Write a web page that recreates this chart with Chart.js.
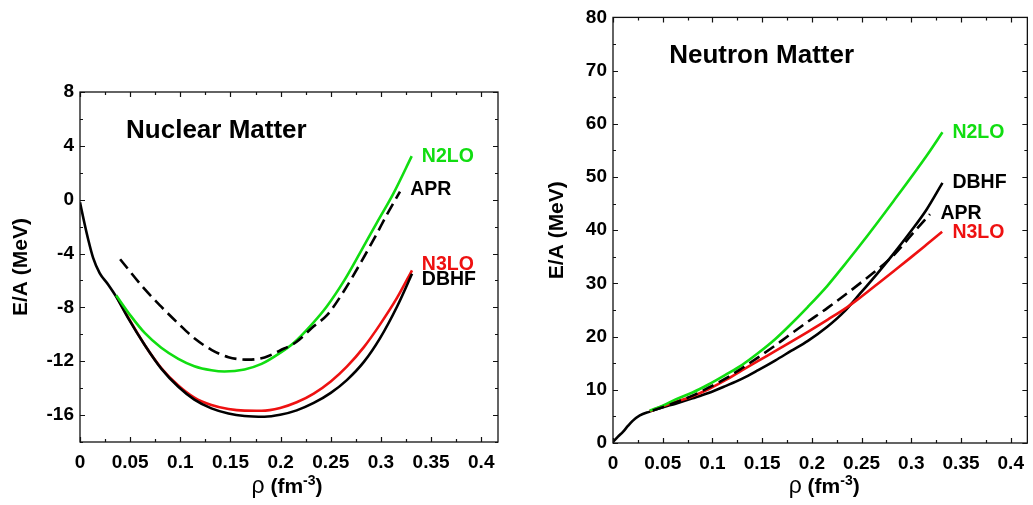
<!DOCTYPE html>
<html>
<head>
<meta charset="utf-8">
<script src="https://cdn.jsdelivr.net/npm/chart.js@4.4.1/dist/chart.umd.min.js"></script>
<style>
  html,body{margin:0;padding:0;background:#fff;}
  #wrap{position:relative;width:1033px;height:505px;overflow:hidden;}
  #nuc{position:absolute;left:0;top:0;}
  #neu{position:absolute;left:520px;top:0;}
</style>
</head>
<body>
<div id="wrap">
  <canvas id="nuc" width="520" height="505"></canvas>
  <canvas id="neu" width="513" height="505"></canvas>
</div>
<script>
/* ── Data: nuclear matter (E/A in MeV vs rho in fm^-3) ── */
const nucDbhfRho=[0,0.004,0.008,0.013,0.0196,0.028,0.036,0.048,0.065,0.081,0.098,0.114,0.131,0.148,0.164,0.184,0.1995,0.216,0.233,0.25,0.266,0.283,0.299,0.316,0.331];
const nucDbhfE=[-0.2,-1.6,-2.9,-4.3,-5.45,-6.3,-7.2,-8.8,-10.85,-12.55,-13.9,-14.85,-15.5,-15.88,-16.07,-16.12,-15.98,-15.65,-15.1,-14.35,-13.4,-12.05,-10.3,-7.95,-5.5];
const nucN3loRho=[0.036,0.048,0.065,0.081,0.098,0.114,0.131,0.148,0.164,0.181,0.1995,0.216,0.233,0.25,0.266,0.283,0.299,0.316,0.331];
const nucN3loE=[-7.15,-8.75,-10.85,-12.5,-13.8,-14.7,-15.25,-15.55,-15.67,-15.68,-15.47,-15.05,-14.4,-13.5,-12.4,-10.95,-9.28,-7.3,-5.25];
const nucN2loRho=[0.036,0.051,0.0645,0.081,0.098,0.114,0.131,0.144,0.164,0.181,0.1995,0.213,0.23,0.246,0.263,0.279,0.296,0.3125,0.3307];
const nucN2loE=[-7.1,-8.67,-9.9,-11.0,-11.82,-12.37,-12.67,-12.76,-12.61,-12.2,-11.38,-10.64,-9.35,-7.93,-6.05,-3.97,-1.7,0.47,3.24];
const nucAprRho=[0.040,0.0645,0.081,0.098,0.114,0.131,0.148,0.1675,0.184,0.1995,0.216,0.233,0.246,0.263,0.2793,0.295,0.306,0.319];
const nucAprE=[-4.42,-6.65,-7.95,-9.2,-10.3,-11.15,-11.7,-11.88,-11.72,-11.2,-10.55,-9.4,-8.6,-6.8,-4.75,-2.65,-1.1,0.6];

/* ── Data: neutron matter ── */
const neuDbhfRho=[0,0.005,0.01,0.015,0.02,0.027,0.037,0.05,0.063,0.08,0.096,0.113,0.13,0.146,0.163,0.179,0.196,0.2158,0.232,0.249,0.266,0.2822,0.2988,0.3154,0.3313];
const neuDbhfE=[0.2,1.2,2.1,3.2,4.2,5.2,5.9,6.7,7.4,8.4,9.4,10.7,12.1,13.7,15.5,17.3,19.2,21.9,24.6,28.2,31.9,35.6,39.6,43.9,48.9];
const neuN3loRho=[0.037,0.05,0.063,0.08,0.096,0.113,0.13,0.146,0.163,0.179,0.196,0.216,0.236,0.249,0.266,0.2822,0.299,0.3154,0.331];
const neuN3loE=[6.0,6.9,7.7,8.8,10.1,11.8,13.7,15.45,17.25,19.0,20.9,23.2,25.6,27.4,29.9,32.3,34.8,37.3,39.7];
const neuN2loRho=[0.037,0.05,0.063,0.08,0.096,0.113,0.13,0.146,0.163,0.176,0.196,0.2158,0.232,0.249,0.2822,0.3154,0.3313];
const neuN2loE=[6.1,7.0,8.2,9.5,11.0,12.8,14.7,16.9,19.5,21.8,25.6,29.6,33.3,37.3,45.5,54.0,58.4];
const neuAprRho=[0.04,0.063,0.08,0.096,0.113,0.13,0.146,0.163,0.176,0.196,0.2158,0.249,0.2822,0.302,0.3187];
const neuAprE=[6.1,7.6,8.9,10.4,12.1,14.1,16.1,18.3,20.1,22.8,25.4,30.1,35.3,39.5,43.0];

/* ── Tick labels ── */
const xTicks=[0,0.05,0.1,0.15,0.2,0.25,0.3,0.35,0.4];
const xTickLabels=['0','0.05','0.1','0.15','0.2','0.25','0.3','0.35','0.4'];
const nucYTicks=[-16,-12,-8,-4,0,4,8];
const neuYTicks=[0,10,20,30,40,50,60,70,80];

/* ── Styling ── */
const GREEN='#11dd11', RED='#ee1111', BLACK='#000';
const FONT='"Liberation Sans", Arial, Helvetica, sans-serif';

const pts=(r,e)=>r.map((v,i)=>({x:v,y:e[i]}));
function line(label,r,e,color,dash){
  return {label,data:pts(r,e),borderColor:color,borderWidth:2.6,borderDash:dash||[],
    pointRadius:0,showLine:true,fill:false,cubicInterpolationMode:'monotone'};
}

/* frame, inward ticks, curve labels and x title */
const framePlugin={
  id:'frame',
  afterDraw(chart,args,o){
    const {ctx,chartArea:a,scales:{x,y}}=chart;
    ctx.save();
    ctx.strokeStyle='#111';ctx.lineWidth=1.3;
    ctx.strokeRect(a.left,a.top,a.right-a.left,a.bottom-a.top);
    ctx.lineWidth=1.2;
    ctx.beginPath();
    for(let i=0;i<=16;i++){
      const px=Math.round(x.getPixelForValue(i*0.025))+0.5,len=i%2?3:5;
      ctx.moveTo(px,a.bottom);ctx.lineTo(px,a.bottom-len);
      ctx.moveTo(px,a.top);ctx.lineTo(px,a.top+len);
    }
    for(let v=o.yMin;v<=o.yMax+1e-9;v+=o.yMinor){
      const py=Math.round(y.getPixelForValue(v))+0.5,len=((v-o.yMajor0)%o.yMajor===0)?5:3;
      ctx.moveTo(a.left,py);ctx.lineTo(a.left+len,py);
      ctx.moveTo(a.right,py);ctx.lineTo(a.right-len,py);
    }
    ctx.stroke();

    ctx.textBaseline='alphabetic';ctx.textAlign='left';
    o.labels.forEach(l=>{
      ctx.fillStyle=l.color;
      ctx.font='bold '+l.size+'px '+FONT;
      ctx.fillText(l.text,x.getPixelForValue(l.x),y.getPixelForValue(l.y));
    });

    // x axis title: rho (fm^-3)
    const parts=[
      {t:'\u03c1',f:'23px '+FONT,dy:0},
      {t:' (fm',f:'bold 21px '+FONT,dy:0},
      {t:'-3',f:'bold 14px '+FONT,dy:-8},
      {t:')',f:'bold 21px '+FONT,dy:0}
    ];
    let w=0;parts.forEach(p=>{ctx.font=p.f;p.w=ctx.measureText(p.t).width;w+=p.w;});
    let cx=(a.left+a.right)/2-w/2+o.titleDx;
    ctx.fillStyle=BLACK;
    parts.forEach(p=>{ctx.font=p.f;ctx.fillText(p.t,cx,o.titleBase+p.dy);cx+=p.w;});
    ctx.restore();
  }
};

function axes(yTicks,yMin,yMax,yWidth,xHeight,yTitlePad){
  return {
    x:{type:'linear',min:0,max:0.4167,
      afterBuildTicks:s=>{s.ticks=xTicks.map(v=>({value:v}));},
      afterFit:s=>{s.height=xHeight;},
      grid:{display:false,drawTicks:false},border:{display:false},
      ticks:{autoSkip:false,maxRotation:0,padding:9,color:BLACK,
        font:{family:FONT,size:19,weight:'bold'},
        callback:(v,i)=>xTickLabels[i]}},
    y:{type:'linear',min:yMin,max:yMax,
      afterBuildTicks:s=>{s.ticks=yTicks.map(v=>({value:v}));},
      afterFit:s=>{s.width=yWidth;},
      grid:{display:false,drawTicks:false},border:{display:false},
      ticks:{padding:6,color:BLACK,font:{family:FONT,size:19,weight:'bold'}},
      title:{display:true,text:'E/A (MeV)',color:BLACK,padding:{top:yTitlePad,bottom:0},
        font:{family:FONT,size:21,weight:'bold'}}}
  };
}

Chart.defaults.animation=false;

new Chart(document.getElementById('nuc'),{
  type:'scatter',
  data:{datasets:[
    line('APR',nucAprRho,nucAprE,BLACK,[12,6]),
    line('N2LO',nucN2loRho,nucN2loE,GREEN),
    line('DBHF',nucDbhfRho,nucDbhfE,BLACK),
    line('N3LO',nucN3loRho,nucN3loE,RED)
  ]},
  options:{responsive:false,
    layout:{padding:{top:92,right:22,bottom:0,left:0}},
    scales:axes(nucYTicks,-18,8,80,63,9),
    plugins:{legend:{display:false},tooltip:{enabled:false},
      frame:{yMin:-18,yMax:8,yMinor:2,yMajor:4,yMajor0:-16,titleBase:493,titleDx:-2,
        labels:[
          {text:'Nuclear Matter',x:0.0459,y:4.57,color:BLACK,size:26},
          {text:'N2LO',x:0.3408,y:2.79,color:GREEN,size:19.5},
          {text:'APR',x:0.3291,y:0.35,color:BLACK,size:19.5},
          {text:'N3LO',x:0.3408,y:-5.21,color:RED,size:19.5},
          {text:'DBHF',x:0.3408,y:-6.32,color:BLACK,size:19.5}
        ]}}},
  plugins:[framePlugin]
});

new Chart(document.getElementById('neu'),{
  type:'scatter',
  data:{datasets:[
    line('APR',neuAprRho,neuAprE,BLACK,[12,6]),
    line('N2LO',neuN2loRho,neuN2loE,GREEN),
    line('N3LO',neuN3loRho,neuN3loE,RED),
    line('DBHF',neuDbhfRho,neuDbhfE,BLACK)
  ]},
  options:{responsive:false,
    layout:{padding:{top:11,right:1,bottom:0,left:0}},
    scales:axes(neuYTicks,0,80,93,62,25),
    plugins:{legend:{display:false},tooltip:{enabled:false},
      frame:{yMin:0,yMax:80,yMinor:5,yMajor:10,yMajor0:0,titleBase:493,titleDx:4,
        labels:[
          {text:'Neutron Matter',x:0.0565,y:71.5,color:BLACK,size:26},
          {text:'N2LO',x:0.3413,y:57.3,color:GREEN,size:19.5},
          {text:'DBHF',x:0.3413,y:47.85,color:BLACK,size:19.5},
          {text:'APR',x:0.3293,y:42.17,color:BLACK,size:19.5},
          {text:'N3LO',x:0.3413,y:38.46,color:RED,size:19.5}
        ]}}},
  plugins:[framePlugin]
});
</script>
</body>
</html>
